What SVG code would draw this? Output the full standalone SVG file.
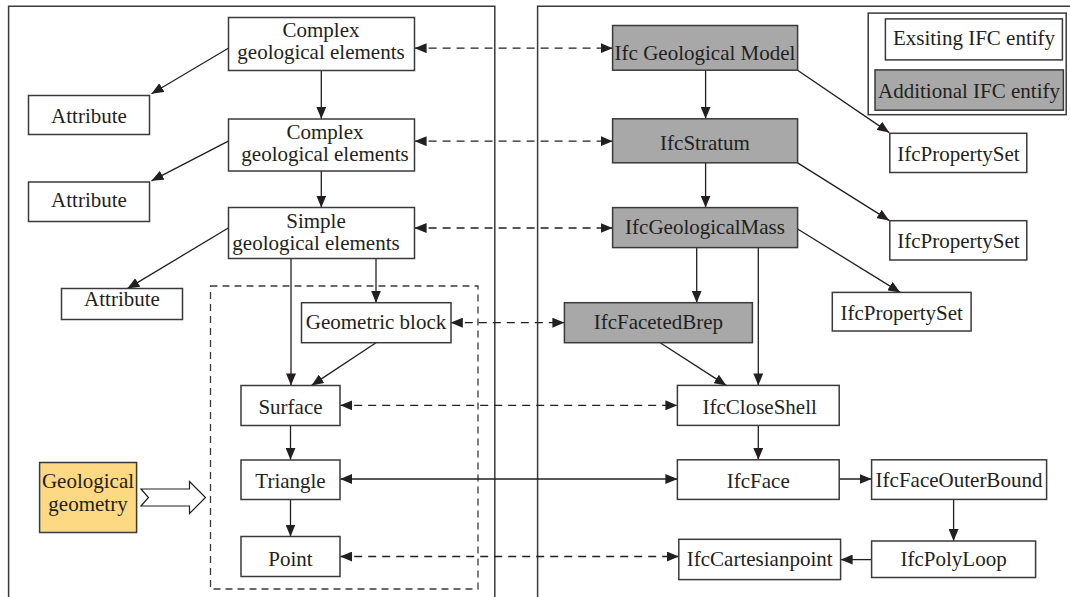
<svg xmlns="http://www.w3.org/2000/svg" width="1070" height="597" viewBox="0 0 1070 597">
  <style>
    .box { fill: #ffffff; stroke: #3a3a3a; stroke-width: 1.5; }
    .add { fill: #a8a8a8; stroke: #3a3a3a; stroke-width: 1.5; }
    .geo { fill: #fdd983; stroke: #3a3a3a; stroke-width: 1.5; }
    .panel { fill: none; stroke: #3a3a3a; stroke-width: 1.5; }
    .frame { fill: none; stroke: #3a3a3a; stroke-width: 1.3; stroke-dasharray: 7 5; }
    text { font-family: "Liberation Serif", "Times New Roman", serif; font-size: 21px; fill: #231f20; text-anchor: middle; }
    .ln { stroke: #231f20; stroke-width: 1.3; fill: none; marker-end: url(#tip); }
    .bi { stroke: #231f20; stroke-width: 1.3; fill: none; marker-start: url(#tip); marker-end: url(#tip); }
    .dash { stroke-dasharray: 8 6; }
  </style>
  <defs>
    <marker id="tip" viewBox="0 0 12 10" refX="12" refY="5" markerWidth="12" markerHeight="10" markerUnits="userSpaceOnUse" orient="auto-start-reverse">
      <path d="M0,0 L12,5 L0,10 Z" fill="#231f20"/>
    </marker>
  </defs>

  <!-- two panels, open at the bottom -->
  <path class="panel" d="M8.6,600 V6.2 H494.8 V600"/>
  <path class="panel" d="M537.6,600 V6.2 H1072"/>

  <!-- geometry frame -->
  <rect class="frame" x="210.5" y="286" width="267.5" height="303"/>

  <!-- connectors -->
  <g id="connectors">
    <line class="ln" x1="228.3" y1="48.2" x2="151.5" y2="93.7"/>
    <line class="ln" x1="321.3" y1="70.2" x2="321.3" y2="118.8"/>
    <line class="ln" x1="228.3" y1="141.2" x2="151.5" y2="180.8"/>
    <line class="ln" x1="321.3" y1="171.1" x2="321.3" y2="207.6"/>
    <line class="ln" x1="228.3" y1="228" x2="127.4" y2="288.6"/>
    <line class="ln" x1="291" y1="258.6" x2="291" y2="385.4"/>
    <line class="ln" x1="376" y1="258.6" x2="376" y2="302.7"/>
    <line class="ln" x1="376" y1="342.7" x2="311.6" y2="385.4"/>
    <line class="ln" x1="290.5" y1="425.3" x2="290.5" y2="459.8"/>
    <line class="ln" x1="290.5" y1="499.4" x2="290.5" y2="536.5"/>

    <line class="bi dash" x1="414.6" y1="48.2" x2="612.6" y2="48.2"/>
    <line class="bi dash" x1="414.6" y1="141.2" x2="612.6" y2="141.2"/>
    <line class="bi dash" x1="414.6" y1="228" x2="612.6" y2="228"/>
    <line class="bi dash" x1="450.8" y1="322.7" x2="564.4" y2="322.7"/>
    <line class="bi dash" x1="340.2" y1="405.3" x2="677.4" y2="405.3"/>
    <line class="bi" x1="340.2" y1="479" x2="677.4" y2="479"/>
    <line class="bi dash" x1="340.2" y1="556.5" x2="678.8" y2="556.5"/>

    <line class="ln" x1="705.6" y1="70.2" x2="705.6" y2="118.8"/>
    <line class="ln" x1="705.6" y1="162.9" x2="705.6" y2="207.6"/>
    <line class="ln" x1="797.6" y1="70.2" x2="889.2" y2="132.6"/>
    <line class="ln" x1="797.6" y1="162.9" x2="889.2" y2="220.4"/>
    <line class="ln" x1="797.6" y1="229" x2="900.2" y2="292.4"/>
    <line class="ln" x1="696.7" y1="247.6" x2="696.7" y2="302.7"/>
    <line class="ln" x1="758.3" y1="247.6" x2="758.3" y2="385.4"/>
    <line class="ln" x1="660.2" y1="342.7" x2="726.3" y2="385.4"/>
    <line class="ln" x1="758.3" y1="425.3" x2="758.3" y2="459.8"/>
    <line class="ln" x1="839.2" y1="479" x2="871.6" y2="479"/>
    <line class="ln" x1="953.6" y1="499.4" x2="953.6" y2="541"/>
    <line class="ln" x1="871.6" y1="559.6" x2="840.6" y2="559.6"/>

    <!-- hollow block arrow into the geometry frame -->
    <polygon points="141,489 189.5,489 189.5,481.5 205.5,497.5 189.5,513.5 189.5,506 141,506 148.5,497.5" fill="#ffffff" stroke="#231f20" stroke-width="1.2"/>
  </g>

  <!-- geological side -->
  <g id="complex-1">
    <rect class="box" x="228.5" y="17.5" width="186" height="53"/>
    <text x="321" y="37">Complex</text>
    <text x="321" y="59">geological elements</text>
  </g>
  <g id="attribute-1">
    <rect class="box" x="28.5" y="95.5" width="121" height="39"/>
    <text x="89" y="123">Attribute</text>
  </g>
  <g id="complex-2">
    <rect class="box" x="228.5" y="119" width="186" height="52"/>
    <text x="325" y="138.8">Complex</text>
    <text x="325" y="161">geological elements</text>
  </g>
  <g id="attribute-2">
    <rect class="box" x="28.5" y="182" width="121" height="39.5"/>
    <text x="89" y="206.6">Attribute</text>
  </g>
  <g id="simple">
    <rect class="box" x="228.5" y="207.5" width="186" height="51"/>
    <text x="316" y="227.6">Simple</text>
    <text x="316" y="249.8">geological elements</text>
  </g>
  <g id="attribute-3">
    <rect class="box" x="61.5" y="288.5" width="121" height="31"/>
    <text x="122" y="306">Attribute</text>
  </g>
  <g id="geometric-block">
    <rect class="box" x="301.5" y="302.7" width="149.5" height="40"/>
    <text x="376" y="329">Geometric block</text>
  </g>
  <g id="surface">
    <rect class="box" x="241" y="385.5" width="99" height="40"/>
    <text x="290.5" y="413.6">Surface</text>
  </g>
  <g id="triangle">
    <rect class="box" x="241" y="460" width="99" height="39.5"/>
    <text x="290.5" y="487.6">Triangle</text>
  </g>
  <g id="point">
    <rect class="box" x="241" y="536.5" width="99" height="40"/>
    <text x="290.5" y="565.8">Point</text>
  </g>
  <g id="geological-geometry">
    <rect class="geo" x="39.6" y="462.5" width="97" height="70"/>
    <text x="88" y="488.3">Geological</text>
    <text x="88" y="511.4">geometry</text>
  </g>

  <!-- IFC side -->
  <g id="legend">
    <rect class="box" x="868.2" y="13.1" width="198" height="101.6"/>
    <rect class="box" x="885.4" y="18.9" width="177" height="41"/>
    <text x="974" y="44.8">Exsiting IFC entify</text>
    <rect class="add" x="875" y="69.9" width="188.4" height="40.3"/>
    <text x="969" y="98">Additional IFC entify</text>
  </g>
  <g id="ifc-geological-model">
    <rect class="add" x="612.6" y="25.5" width="185" height="44.7"/>
    <text x="705" y="59.5">Ifc Geological Model</text>
  </g>
  <g id="ifc-stratum">
    <rect class="add" x="612.6" y="118.8" width="185" height="44"/>
    <text x="705" y="150">IfcStratum</text>
  </g>
  <g id="ifc-geological-mass">
    <rect class="add" x="612.6" y="207.6" width="185" height="40"/>
    <text x="705" y="234">IfcGeologicalMass</text>
  </g>
  <g id="ifc-property-set-1">
    <rect class="box" x="889.8" y="133.3" width="137" height="39.2"/>
    <text x="958.4" y="161">IfcPropertySet</text>
  </g>
  <g id="ifc-property-set-2">
    <rect class="box" x="889.8" y="220.7" width="137" height="39.3"/>
    <text x="958.4" y="248">IfcPropertySet</text>
  </g>
  <g id="ifc-property-set-3">
    <rect class="box" x="832.3" y="292.4" width="138.8" height="38.6"/>
    <text x="901.7" y="319.6">IfcPropertySet</text>
  </g>
  <g id="ifc-faceted-brep">
    <rect class="add" x="564.4" y="302.7" width="188" height="40"/>
    <text x="658.4" y="329">IfcFacetedBrep</text>
  </g>
  <g id="ifc-close-shell">
    <rect class="box" x="677.4" y="385.4" width="161.8" height="40"/>
    <text x="759.7" y="413.6">IfcCloseShell</text>
  </g>
  <g id="ifc-face">
    <rect class="box" x="677.4" y="459.8" width="161.8" height="39.6"/>
    <text x="758.3" y="488">IfcFace</text>
  </g>
  <g id="ifc-face-outer-bound">
    <rect class="box" x="871.6" y="459.8" width="175" height="39.6"/>
    <text x="959" y="487">IfcFaceOuterBound</text>
  </g>
  <g id="ifc-cartesianpoint">
    <rect class="box" x="678.8" y="539.3" width="161.8" height="40.3"/>
    <text x="759.7" y="566">IfcCartesianpoint</text>
  </g>
  <g id="ifc-poly-loop">
    <rect class="box" x="871.6" y="541" width="164" height="36.5"/>
    <text x="953.6" y="566">IfcPolyLoop</text>
  </g>
</svg>
